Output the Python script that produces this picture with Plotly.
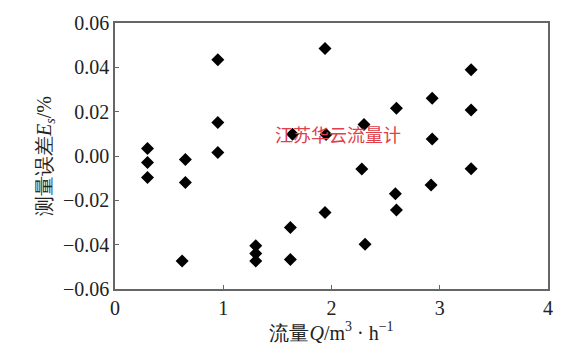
import plotly.graph_objects as go

flow = [0.30, 0.30, 0.30, 0.65, 0.65, 0.62, 0.95, 0.95, 0.95,
        1.30, 1.30, 1.30, 1.62, 1.62, 1.64, 1.94, 1.95, 1.94,
        2.30, 2.28, 2.31, 2.60, 2.59, 2.60, 2.93, 2.93, 2.92,
        3.29, 3.29, 3.29]
error = [0.0034, -0.0029, -0.0097, -0.0016, -0.0119, -0.0474, 0.0434, 0.0151, 0.0016,
         -0.0405, -0.0440, -0.0474, -0.0323, -0.0467, 0.0098, 0.0485, 0.0097, -0.0255,
         0.0142, -0.0059, -0.0398, 0.0215, -0.0170, -0.0244, 0.0260, 0.0077, -0.0131,
         0.0389, 0.0208, -0.0058]

x_ticks = [0, 1, 2, 3, 4]
y_ticks = [0.06, 0.04, 0.02, 0.00, -0.02, -0.04, -0.06]
y_labels = ["0.06", "0.04", "0.02", "0.00", "\u22120.02", "\u22120.04", "\u22120.06"]

font_family = "Times New Roman, Liberation Serif, DejaVu Serif, serif"

fig = go.Figure()
fig.add_trace(go.Scatter(
    x=flow, y=error, mode="markers",
    marker=dict(symbol="diamond", size=10, color="black"),
    showlegend=False,
))

fig.add_annotation(
    x=0.516, y=0.584, xref="paper", yref="paper",
    text="江苏华云流量计", showarrow=False,
    font=dict(family="Noto Sans CJK SC", size=18, color="#e0404a"),
)

axis_common = dict(
    showline=True, linecolor="#666666", linewidth=1.5, mirror=True,
    ticks="inside", ticklen=4, tickcolor="#666666", tickwidth=1,
    showgrid=False, zeroline=False,
    tickfont=dict(family=font_family, size=20, color="#222222"),
)

fig.update_xaxes(
    range=[0, 4], tickvals=x_ticks, ticktext=[str(v) for v in x_ticks],
    title=dict(text="流量<i>Q</i>/m<sup>3</sup> · h<sup>−1</sup>",
               font=dict(family=font_family, size=20, color="#222222"), standoff=8),
    **axis_common,
)
fig.update_yaxes(
    range=[-0.06, 0.06], tickvals=y_ticks, ticktext=y_labels,
    title=dict(text="测量误差<i>E</i><sub><i>s</i></sub>/%",
               font=dict(family=font_family, size=20, color="#222222"), standoff=6),
    **axis_common,
)

fig.update_layout(
    width=565, height=353,
    margin=dict(l=115, r=14, t=22, b=64),
    paper_bgcolor="white", plot_bgcolor="white",
    font=dict(family=font_family),
)

fig.write_html("out.html")
